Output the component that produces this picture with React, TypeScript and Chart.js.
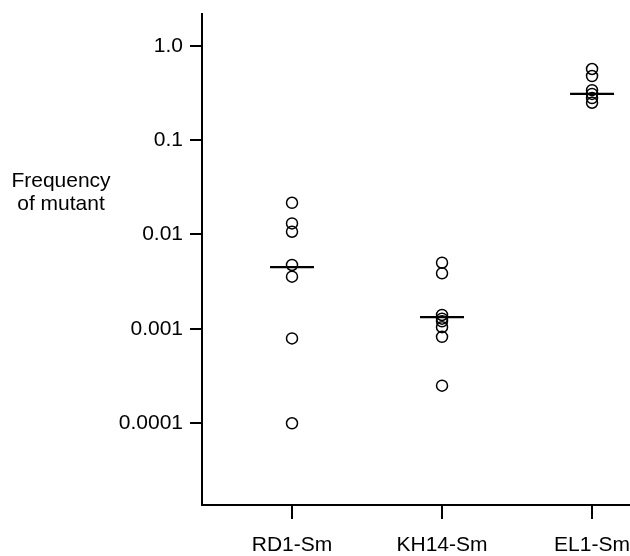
import React, { useEffect, useRef } from "react";
import { Chart, registerables } from "chart.js";

Chart.register(...registerables);

const categories = ["RD1-Sm", "KH14-Sm", "EL1-Sm"];
const rd1Values = [0.0217, 0.0131, 0.0107, 0.00475, 0.00357, 0.00079, 0.0000993];
const kh14Values = [0.00502, 0.00387, 0.0014, 0.00128, 0.0012, 0.00104, 0.00082, 0.000249];
const el1Values = [0.57, 0.48, 0.34, 0.31, 0.28, 0.25];
const medians = [0.0045, 0.00133, 0.31];
const yTickValues = [1, 0.1, 0.01, 0.001, 0.0001];
const yTickLabels = ["1.0", "0.1", "0.01", "0.001", "0.0001"];
const yAxisTitle = ["Frequency", "of mutant"];

const FONT = "'Liberation Sans', Arial, Helvetica, sans-serif";

export default function App() {
  const ref = useRef<HTMLCanvasElement | null>(null);

  useEffect(() => {
    const canvas = ref.current;
    if (!canvas) return;
    const groups = [rd1Values, kh14Values, el1Values];
    const points: { x: number; y: number }[] = [];
    groups.forEach((vals, i) => vals.forEach((v) => points.push({ x: i, y: v })));

    const titlePlugin = {
      id: "sideTitle",
      afterDraw(chart: any) {
        const ctx = chart.ctx;
        ctx.save();
        ctx.fillStyle = "#000";
        ctx.font = `21px ${FONT}`;
        ctx.textAlign = "center";
        ctx.textBaseline = "middle";
        ctx.fillText(yAxisTitle[0], 61, 181);
        ctx.fillText(yAxisTitle[1], 61, 204);
        ctx.restore();
      },
    };

    const chart = new Chart(canvas, {
      type: "scatter",
      data: {
        datasets: [
          {
            label: "values",
            data: points,
            pointStyle: "circle",
            pointRadius: 5.5,
            pointBorderWidth: 1.5,
            pointBorderColor: "#000",
            pointBackgroundColor: "rgba(0,0,0,0)",
            clip: false,
          },
          {
            label: "median",
            data: medians.map((v, i) => ({ x: i, y: v })),
            pointStyle: "line",
            pointRadius: 22,
            pointBorderWidth: 2.2,
            pointBorderColor: "#000",
            pointBackgroundColor: "#000",
            clip: false,
          },
        ],
      },
      options: {
        animation: false,
        responsive: false,
        devicePixelRatio: 1,
        layout: { autoPadding: false, padding: { top: 14, right: 0, left: 0, bottom: 0 } },
        plugins: {
          legend: { display: false },
          tooltip: { enabled: false },
        },
        scales: {
          x: {
            type: "linear",
            min: -0.6,
            max: 2.253,
            afterBuildTicks: (s: any) => {
              s.ticks = categories.map((_, i) => ({ value: i }));
            },
            afterFit: (s: any) => {
              s.height = 51;
              s.paddingLeft = 0;
              s.paddingRight = 0;
            },
            ticks: {
              color: "#000",
              font: { family: FONT, size: 21 },
              padding: 14,
              maxRotation: 0,
              autoSkip: false,
              callback: (v: any) => categories[Math.round(Number(v))] ?? "",
            },
            grid: {
              display: true,
              drawOnChartArea: false,
              drawTicks: true,
              tickLength: 14,
              color: "#000",
              lineWidth: 2,
            },
            border: { display: true, color: "#000", width: 2 },
          },
          y: {
            type: "logarithmic",
            min: 1.349e-5,
            max: 2.185,
            bounds: "data",
            afterBuildTicks: (s: any) => {
              s.ticks = yTickValues.map((v) => ({ value: v }));
            },
            afterFit: (s: any) => {
              s.width = 202;
              s.paddingTop = 0;
              s.paddingBottom = 0;
            },
            ticks: {
              color: "#000",
              font: { family: FONT, size: 21 },
              padding: 7,
              autoSkip: false,
              callback: (v: any) => {
                const idx = yTickValues.findIndex((t) => Math.abs(Math.log10(t) - Math.log10(Number(v))) < 1e-6);
                return idx >= 0 ? yTickLabels[idx] : "";
              },
            },
            grid: {
              display: true,
              drawOnChartArea: false,
              drawTicks: true,
              tickLength: 12,
              color: "#000",
              lineWidth: 2,
            },
            border: { display: true, color: "#000", width: 2 },
          },
        },
      },
      plugins: [titlePlugin],
    } as any);

    return () => chart.destroy();
  }, []);

  return (
    <div style={{ position: "absolute", left: 0, top: 0, width: 630, height: 556, background: "#fff" }}>
      <canvas ref={ref} width={630} height={556} />
    </div>
  );
}
